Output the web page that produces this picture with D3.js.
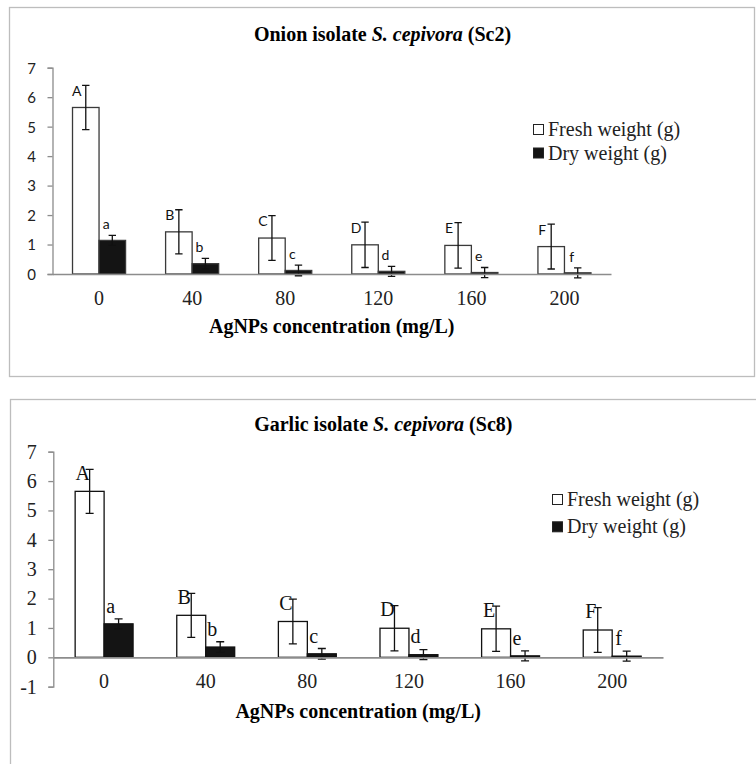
<!DOCTYPE html>
<html>
<head>
<meta charset="utf-8">
<script src="https://cdn.jsdelivr.net/npm/d3@7"></script>
<style>
  body { margin: 0; background: #fff; }
  svg { display: block; }
</style>
</head>
<body>
<div id="chart"></div>
<script>
var width = 756,
    height = 764;

// data (same values in both panels)
var concentrations = ["0", "40", "80", "120", "160", "200"];
var freshWeight = [5.65, 1.43, 1.22, 0.99, 0.97, 0.93];
var freshErr = [0.75, 0.75, 0.76, 0.77, 0.77, 0.76];
var dryWeight = [1.14, 0.35, 0.12, 0.09, 0.05, 0.04];
var dryErr = [0.17, 0.18, 0.18, 0.17, 0.17, 0.17];
var freshLetters = ["A", "B", "C", "D", "E", "F"];
var dryLetters = ["a", "b", "c", "d", "e", "f"];
var seriesNames = ["Fresh weight (g)", "Dry weight (g)"];
var yTicksTop = [0, 1, 2, 3, 4, 5, 6, 7];
var yTicksBottom = [-1, 0, 1, 2, 3, 4, 5, 6, 7];

var serif = "'Liberation Serif', 'Times New Roman', serif";
var sans = "Lato, 'Open Sans', sans-serif";

let svg = d3.select("#chart")
    .append("svg")
    .attr("width", width)
    .attr("height", height);

let rows = concentrations.map(function(c, i){
    return {
        cat: c,
        series: [
            {key: "fresh", value: freshWeight[i], err: freshErr[i], letter: freshLetters[i]},
            {key: "dry", value: dryWeight[i], err: dryErr[i], letter: dryLetters[i]}
        ]
    };
});

function drawPanel(p){
    let g = svg.append("g");

    // frame
    g.append("rect")
        .attr("x", p.frame[0] + 0.5)
        .attr("y", p.frame[1] + 0.5)
        .attr("width", p.frame[2])
        .attr("height", p.frame[3])
        .attr("fill", "none")
        .attr("stroke", "#bdbdbd")
        .attr("stroke-width", 1.3);

    let x = d3.scaleBand()
        .domain(concentrations)
        .range([p.x0, p.x1])
        .paddingInner(0.43)
        .paddingOuter(0.215);

    let xs = d3.scaleBand()
        .domain(["fresh", "dry"])
        .range([0, x.bandwidth()]);

    let y = d3.scaleLinear()
        .domain(p.yDomain)
        .range([p.yBottom, p.yTop]);

    // y axis
    let yAxis = g.append("g")
        .attr("transform", `translate(${p.x0},0)`)
        .call(d3.axisLeft(y)
            .tickValues(p.yTicks)
            .tickFormat(d => String(d))
            .tickSizeInner(5)
            .tickSizeOuter(5)
            .tickPadding(11.5));
    yAxis.select(".domain").attr("stroke", "#8c8c8c").attr("stroke-width", 1.3);
    yAxis.selectAll(".tick line").attr("stroke", "#8c8c8c").attr("stroke-width", 1.3);
    yAxis.selectAll(".tick text")
        .attr("dy", p.yTickDy)
        .style("font-family", p.yTickFont)
        .style("font-size", p.yTickSize + "px")
        .style("fill", "#222");

    // category groups
    let groups = g.selectAll(".grp")
        .data(rows)
        .join("g")
        .attr("class", "grp")
        .attr("transform", d => `translate(${x(d.cat)},0)`);

    let bars = groups.selectAll(".bar")
        .data(d => d.series)
        .join("g")
        .attr("class", "bar");

    bars.append("rect")
        .attr("x", d => xs(d.key))
        .attr("y", d => y(d.value))
        .attr("width", xs.bandwidth())
        .attr("height", d => y(0) - y(d.value))
        .attr("fill", d => d.key == "fresh" ? "#fff" : "#141414")
        .attr("stroke", p.barStroke)
        .attr("stroke-width", 1.3);

    // x axis line drawn over the bar bottoms
    let xAxis = g.append("g")
        .attr("transform", `translate(0,${y(0)})`)
        .call(d3.axisBottom(x).tickSize(0).tickPadding(p.xTickPad));
    xAxis.select(".domain").attr("stroke", "#8c8c8c").attr("stroke-width", 1.6);
    xAxis.selectAll(".tick text")
        .style("font-family", serif)
        .style("font-size", "20px")
        .style("fill", "#222");

    // error bars
    let cap = p.cap;
    bars.append("path")
        .attr("d", function(d){
            let cx = xs(d.key) + xs.bandwidth() / 2;
            let t = y(d.value + d.err), b = y(d.value - d.err);
            return `M${cx},${t}V${b}M${cx - cap},${t}H${cx + cap}M${cx - cap},${b}H${cx + cap}`;
        })
        .attr("fill", "none")
        .attr("stroke", "#111")
        .attr("stroke-width", 1.3);

    // significance letters
    bars.append("text")
        .attr("x", d => xs(d.key) + xs.bandwidth() / 2 + (d.key == "fresh" ? p.freshDx : p.dryDx))
        .attr("y", function(d){
            if(d.key == "fresh"){
                return y(d.value + d.err) + 10.5;
            }
            return y(d.value) - 11.3;
        })
        .attr("text-anchor", "middle")
        .style("font-family", p.letterFont)
        .style("font-size", p.letterSize + "px")
        .style("fill", "#111")
        .text(d => d.letter);

    // title
    let title = g.append("text")
        .attr("x", p.titleX)
        .attr("y", p.titleY)
        .attr("text-anchor", "middle")
        .style("font-family", serif)
        .style("font-size", "20px")
        .style("font-weight", "bold");
    title.append("tspan").text(p.titleStart + " ");
    title.append("tspan").style("font-style", "italic").text("S. cepivora");
    title.append("tspan").text(" " + p.titleEnd);

    // x axis title
    g.append("text")
        .attr("x", (p.x0 + p.x1) / 2)
        .attr("y", p.xTitleY)
        .attr("text-anchor", "middle")
        .style("font-family", serif)
        .style("font-size", "20px")
        .style("font-weight", "bold")
        .text("AgNPs concentration (mg/L)");

    // legend
    let legend = g.selectAll(".legend")
        .data(seriesNames)
        .join("g")
        .attr("class", "legend")
        .attr("transform", (d, i) => `translate(${p.legendX},${p.legendY + i * p.legendStep})`);

    legend.append("rect")
        .attr("x", 0.5)
        .attr("y", -11.5)
        .attr("width", 10)
        .attr("height", 10)
        .attr("fill", (d, i) => i == 0 ? "#fff" : "#141414")
        .attr("stroke", "#222")
        .attr("stroke-width", 1);

    legend.append("text")
        .attr("x", 15)
        .attr("y", 0)
        .style("font-family", serif)
        .style("font-size", "20px")
        .style("fill", "#222")
        .text(d => d);
}

drawPanel({
    frame: [9, 7, 745, 369],
    x0: 52.5, x1: 611,
    yDomain: [0, 7], yTop: 67.7, yBottom: 274,
    yTicks: yTicksTop,
    yTickFont: sans, yTickSize: 15, yTickDy: "0.36em",
    xTickPad: 17,
    barStroke: "#3a3a3a",
    cap: 3.7,
    letterFont: sans, letterSize: 14,
    freshDx: -9, dryDx: -6,
    titleStart: "Onion isolate", titleEnd: "(Sc2)",
    titleX: 382.5, titleY: 40.7,
    xTitleY: 333,
    legendX: 533, legendY: 136, legendStep: 23.5
});

drawPanel({
    frame: [10, 399, 760, 380],
    x0: 53.3, x1: 663,
    yDomain: [-1, 7], yTop: 451.7, yBottom: 686.7,
    yTicks: yTicksBottom,
    yTickFont: serif, yTickSize: 20, yTickDy: "0.32em",
    xTickPad: 16,
    barStroke: "#111",
    cap: 4,
    letterFont: serif, letterSize: 20,
    freshDx: -7, dryDx: -8,
    titleStart: "Garlic isolate", titleEnd: "(Sc8)",
    titleX: 383.3, titleY: 431,
    xTitleY: 718.3,
    legendX: 552, legendY: 506, legendStep: 27.3
});
</script>
</body>
</html>
